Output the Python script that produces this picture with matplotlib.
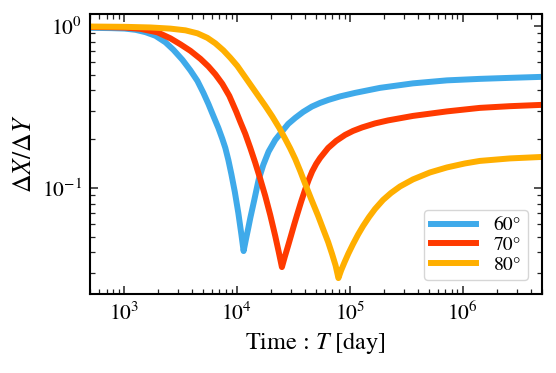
import numpy as np
import matplotlib
matplotlib.use("Agg")
import matplotlib.pyplot as plt
from matplotlib.ticker import LogLocator, NullFormatter

plt.rcParams["font.family"] = ["STIXGeneral", "DejaVu Serif"]
plt.rcParams["mathtext.fontset"] = "stix"

# ── Dados (T em dias, razão ΔX/ΔY) ──
T_60 = [500, 760, 1010, 1264, 1549, 1899, 2328, 2740, 3291, 3873, 4466, 5046,
        5587, 6185, 6847, 7429, 7896, 8395, 8924, 9582, 10290, 10940, 11460,
        11990, 12610, 13140, 14250, 15560, 17120, 19070, 21860, 25040, 28480,
        32850, 38650, 46130, 54620, 64700, 82100, 111400, 185300, 362800,
        725000, 1.419e6, 2.614e6, 5e6]
R_60 = [0.972, 0.968, 0.962, 0.945, 0.914, 0.868, 0.791, 0.711, 0.617, 0.531,
        0.4575, 0.386, 0.330, 0.278, 0.2346, 0.2007, 0.1765, 0.1489, 0.1220,
        0.0945, 0.0701, 0.0520, 0.0408, 0.0478, 0.0566, 0.0653, 0.0843, 0.1121,
        0.1387, 0.1675, 0.1978, 0.2226, 0.2484, 0.2704, 0.2945, 0.3176, 0.3347,
        0.3493, 0.3671, 0.3858, 0.4144, 0.4417, 0.4609, 0.4708, 0.4776, 0.4844]

T_70 = [500, 760, 1010, 1399, 1978, 2577, 3159, 3873, 4748, 5587, 6442, 7429,
        8565, 9879, 10720, 11870, 13140, 14550, 16100, 17830, 19740, 21860,
        23470, 25040, 26520, 28180, 30080, 32170, 34200, 37100, 40250, 43220,
        46420, 50350, 54620, 64300, 75660, 90880, 106900, 128500, 167400,
        218200, 362800, 725000, 1.419e6, 2.614e6, 5e6]
R_70 = [0.983, 0.980, 0.976, 0.958, 0.912, 0.837, 0.769, 0.701, 0.626, 0.562,
        0.502, 0.4385, 0.3697, 0.2945, 0.2555, 0.2154, 0.1765, 0.1426, 0.1136,
        0.0892, 0.0681, 0.0505, 0.0403, 0.0325, 0.0375, 0.0432, 0.0505, 0.0595,
        0.0686, 0.0825, 0.0979, 0.1121, 0.1264, 0.1406, 0.1532, 0.1765, 0.1950,
        0.2124, 0.2248, 0.2362, 0.2501, 0.2610, 0.2782, 0.2966, 0.3118, 0.3194,
        0.3254]

T_80 = [500, 1010, 1715, 2577, 3498, 4466, 5473, 6442, 7583, 8745, 10080,
        11630, 13410, 15460, 17830, 20560, 23710, 26790, 29660, 32850, 36360,
        40250, 45490, 52450, 58060, 64300, 69720, 74890, 79300, 83770, 89950,
        97180, 106900, 118400, 131100, 148200, 167400, 197000, 231800, 278400,
        362800, 512900, 725000, 1.046e6, 1.419e6, 2.614e6, 5e6]
R_80 = [0.990, 0.986, 0.977, 0.961, 0.938, 0.899, 0.843, 0.780, 0.706, 0.635,
        0.566, 0.491, 0.426, 0.3697, 0.3208, 0.2763, 0.2346, 0.2007, 0.1753,
        0.1510, 0.1273, 0.1059, 0.0855, 0.0672, 0.0558, 0.0464, 0.0391, 0.0332,
        0.0278, 0.0310, 0.0349, 0.0394, 0.0451, 0.0516, 0.0582, 0.0662, 0.0742,
        0.0843, 0.0931, 0.1021, 0.1129, 0.1246, 0.1338, 0.1416, 0.1468, 0.1521,
        0.1553]

labels = ["60°", "70°", "80°"]
cores = ["#3FAAEA", "#FF3A00", "#FFAF00"]

fig = plt.figure(figsize=(5.56, 3.73), dpi=100)
ax = fig.add_axes([0.162, 0.212, 0.812, 0.750])

for T, R, lab, cor in zip([T_60, T_70, T_80], [R_60, R_70, R_80], labels, cores):
    ax.plot(T, R, color=cor, lw=4.3, label=lab, solid_joinstyle="round")

ax.set_xscale("log")
ax.set_yscale("log")
ax.set_xlim(500, 5e6)
ax.set_ylim(0.0222, 1.18)

ax.xaxis.set_minor_locator(LogLocator(base=10, subs=np.arange(2, 10), numticks=20))
ax.yaxis.set_minor_locator(LogLocator(base=10, subs=np.arange(2, 10), numticks=20))
ax.xaxis.set_minor_formatter(NullFormatter())
ax.yaxis.set_minor_formatter(NullFormatter())

ax.tick_params(which="both", direction="in", top=True, right=True,
               labelsize=15.5, color="#222222")
ax.tick_params(which="major", length=6, width=1.1, pad=6)
ax.tick_params(which="minor", length=3.5, width=0.9)
for spine in ax.spines.values():
    spine.set_linewidth(1.5)

ax.set_xlabel("Time : $T$ [day]", fontsize=17.5, labelpad=3)
ax.set_ylabel(r"$\Delta X/\Delta Y$", fontsize=18.5, labelpad=3)

ax.legend(loc="lower right", fontsize=14, handlelength=2.3, labelspacing=0.1,
          handletextpad=0.9, borderpad=0.35, borderaxespad=0.7,
          edgecolor="#CCCCCC", fancybox=True)

plt.savefig("out.png", dpi=100)
plt.close()
